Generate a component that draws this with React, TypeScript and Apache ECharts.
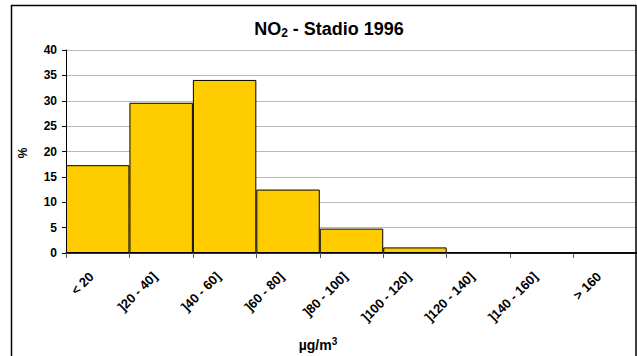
import React, { useEffect, useRef } from "react";
import * as echarts from "echarts";

const categories = ["< 20", "]20 - 40]", "]40 - 60]", "]60 - 80]", "]80 - 100]", "]100 - 120]", "]120 - 140]", "]140 - 160]", "> 160"];
const percentValues = [17.3, 29.6, 34.1, 12.5, 4.8, 1.1, 0.2, 0, 0];
const yTicks = [0, 5, 10, 15, 20, 25, 30, 35, 40];

const FONT = "'Liberation Sans', Arial, sans-serif";

export default function App() {
  const ref = useRef<HTMLDivElement>(null);
  useEffect(() => {
    if (!ref.current) return;
    const chart = echarts.init(ref.current, null, { renderer: "svg" });
    chart.setOption({
      animation: false,
      backgroundColor: "#ffffff",
      title: {
        text: "{a|NO}{s|2}{a| - Stadio 1996}",
        left: 324,
        textAlign: "center",
        top: 14,
        textStyle: {
          rich: {
            a: { fontFamily: FONT, fontSize: 18, fontWeight: "bold", color: "#000" },
            s: { fontFamily: FONT, fontSize: 12, fontWeight: "bold", color: "#000", verticalAlign: "bottom", padding: [8, 0, 0, 0] },
          },
        },
      },
      graphic: [
        {
          type: "rect",
          shape: { x: 11.5, y: 5.5, width: 624.5, height: 400 },
          style: { fill: "none", stroke: "#000", lineWidth: 1.5 },
          z: 100,
        },
        {
          type: "text",
          x: 318,
          y: 345,
          style: {
            text: "{a|µg/m}{s|3}",
            rich: {
              a: { fontFamily: FONT, fontSize: 14, fontWeight: "bold", fill: "#000" },
              s: { fontFamily: FONT, fontSize: 10, fontWeight: "bold", fill: "#000", verticalAlign: "top", padding: [0, 0, 8, 0] },
            },
            align: "center",
            verticalAlign: "middle",
          },
        },
        {
          type: "text",
          x: 23,
          y: 153,
          rotation: Math.PI / 2,
          style: { text: "%", fontFamily: FONT, fontSize: 12, fontWeight: "bold", fill: "#000", align: "center", verticalAlign: "middle" },
        },
      ],
      grid: { left: 66, top: 50, right: 0, bottom: 103, containLabel: false },
      xAxis: {
        type: "category",
        data: categories,
        boundaryGap: true,
        axisLine: { lineStyle: { color: "#000", width: 1.5 } },
        axisTick: { show: true, alignWithLabel: false, length: 5, lineStyle: { color: "#555" } },
        axisLabel: {
          rotate: 45,
          interval: 0,
          fontFamily: FONT,
          fontSize: 13,
          fontWeight: "bold",
          color: "#000",
          margin: 15,
          padding: [0, 9, 0, 0],
        },
        splitLine: { show: false },
      },
      yAxis: {
        type: "value",
        min: 0,
        max: 40,
        interval: 5,
        axisLine: { show: true, lineStyle: { color: "#000", width: 1 } },
        axisTick: { show: true, length: 4, lineStyle: { color: "#000" } },
        axisLabel: {
          fontFamily: FONT,
          fontSize: 12,
          fontWeight: "bold",
          color: "#000",
          margin: 9,
          formatter: (v: number) => (yTicks.includes(v) ? String(v) : ""),
        },
        splitLine: { show: true, lineStyle: { color: "#b8b8b8", width: 1 } },
      },
      series: [
        {
          type: "bar",
          data: percentValues,
          barCategoryGap: "0%",
          itemStyle: { color: "#FFCC00", borderColor: "#000", borderWidth: 1 },
        },
      ],
    });
    return () => chart.dispose();
  }, []);
  return <div ref={ref} style={{ position: "fixed", left: 0, top: 0, width: 637, height: 356 }} />;
}
